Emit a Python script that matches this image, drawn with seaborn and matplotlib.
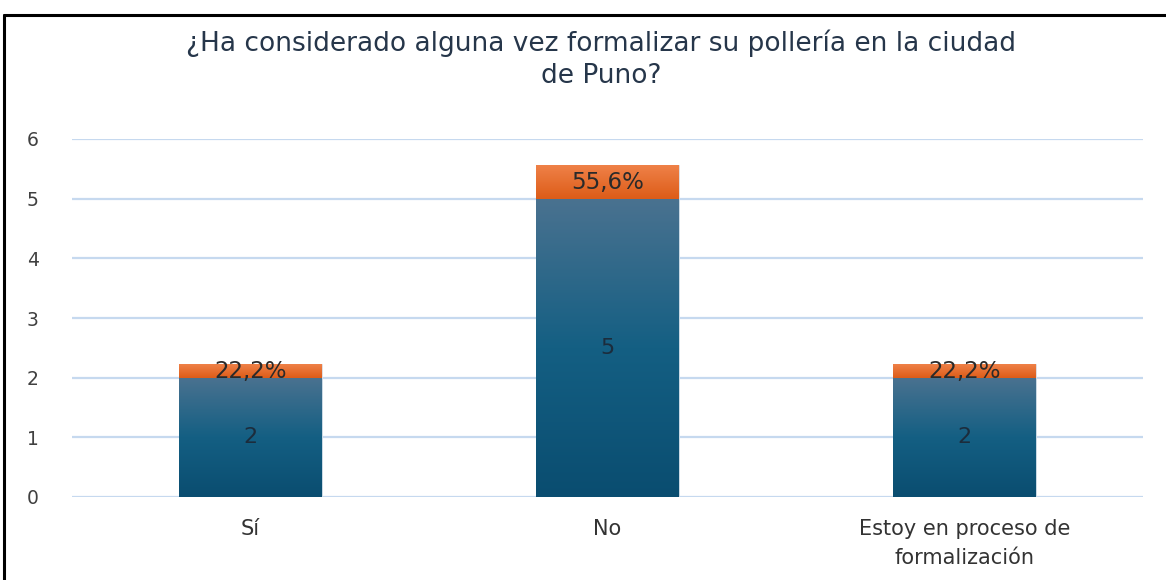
import numpy as np
import pandas as pd
import matplotlib
matplotlib.use("Agg")
import matplotlib.pyplot as plt
import seaborn as sns
from matplotlib.colors import LinearSegmentedColormap
from matplotlib.lines import Line2D

# ---- data ----
categories = ["Sí", "No", "Estoy en proceso de\nformalización"]
counts = [2, 5, 2]
percents = [22.2, 55.6, 22.2]
title = "¿Ha considerado alguna vez formalizar su pollería en la ciudad\nde Puno?"
yticks = [0, 1, 2, 3, 4, 5, 6]

df = pd.DataFrame({"cat": categories, "count": counts, "pct": percents})
df["total"] = df["count"] + df["pct"] / 100.0

sns.set_theme(style="white")
plt.rcParams["font.family"] = ["DejaVu Sans"]

fig = plt.figure(figsize=(11.66, 5.8), dpi=100)
ax = fig.add_axes([72 / 1166, 1 - 497 / 580, (1143 - 72) / 1166, (497 - 139) / 580])

sns.barplot(data=df, x="cat", y="total", color="#ec6d2a", width=0.4, ax=ax,
            saturation=1, zorder=2)
n_orange = len(ax.patches)
sns.barplot(data=df, x="cat", y="count", color="#0d5275", width=0.4, ax=ax,
            saturation=1, zorder=3)

blue_cmap = LinearSegmentedColormap.from_list("b", ["#0a4d70", "#145f83", "#4a7290"])
orange_cmap = LinearSegmentedColormap.from_list("o", ["#dd5c18", "#ef8148"])
grad = np.linspace(0, 1, 256).reshape(-1, 1)
xl, yl = (-0.5, 2.5), (0, 6)
patches = list(ax.patches)
for i, p in enumerate(patches):
    x, w = p.get_x(), p.get_width()
    if i < n_orange:
        y0 = patches[i + n_orange].get_height()
        y1 = p.get_height()
        cmap = orange_cmap
    else:
        y0, y1 = p.get_y(), p.get_y() + p.get_height()
        cmap = blue_cmap
    im = ax.imshow(grad, extent=[x, x + w, y0, y1], origin="lower", aspect="auto",
                   cmap=cmap, zorder=p.get_zorder() + 0.1, interpolation="bilinear")
    im.set_clip_path(p)
    p.set_edgecolor("#dbe6f0")
    p.set_linewidth(0.6)
ax.set_xlim(*xl)
ax.set_ylim(*yl)

# labels
for i, (c, pc) in enumerate(zip(counts, percents)):
    ax.text(i, c / 2, f"{c}", ha="center", va="center", fontsize=16,
            color="#1c2c3c", zorder=10)
    ax.text(i, c + pc / 200.0, f"{pc:.1f}%".replace(".", ","), ha="center",
            va="center", fontsize=16.5, color="#2a2a2a", zorder=10)

ax.set_yticks(yticks)
ax.set_yticklabels([str(t) for t in yticks], fontsize=13.5, color="#404040")
ax.tick_params(axis="y", length=0, pad=24)
ax.tick_params(axis="x", length=0, pad=16)
for lab in ax.get_xticklabels():
    lab.set_fontsize(15)
    lab.set_color("#333333")
    lab.set_linespacing(1.55)
ax.set_xlabel("")
ax.set_ylabel("")
ax.yaxis.grid(True, color="#c6d9ef", linewidth=1.6, zorder=0)
ax.set_axisbelow(True)
for s in ax.spines.values():
    s.set_visible(False)

fig.text(601 / 1166, 1 - 59 / 580, title, ha="center", va="center", fontsize=19,
         color="#26364a", linespacing=1.3)

# outer frame (left and top)
fig.add_artist(Line2D([4 / 1166, 4 / 1166], [0, 1 - 15 / 580], color="black",
                      linewidth=2.2, transform=fig.transFigure))
fig.add_artist(Line2D([4 / 1166, 1], [1 - 15 / 580, 1 - 15 / 580], color="black",
                      linewidth=2.2, transform=fig.transFigure))

fig.savefig("out.png", dpi=100)
